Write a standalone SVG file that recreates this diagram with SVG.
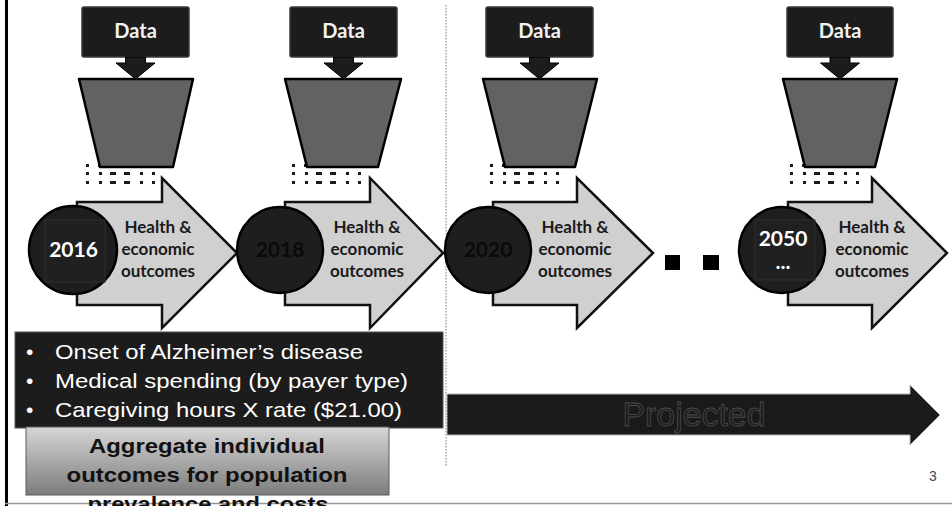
<svg xmlns="http://www.w3.org/2000/svg" width="952" height="506" viewBox="0 0 952 506">
<style>
.data{fill:#1c1c1c;stroke:#3a3a3a;stroke-width:1.5}
.dtxt{font-family:Lato,"Noto Sans",sans-serif;font-weight:bold;font-size:20px;fill:#f2f2f2;text-anchor:middle}
.darr{fill:#1c1c1c;stroke:#000;stroke-width:1}
.trap{fill:#626262;stroke:#000;stroke-width:2.5;stroke-linejoin:round}
.big{fill:#d0d0d0;stroke:#111;stroke-width:2.5}
.circ{fill:#1e1e1e;stroke:#000;stroke-width:2.5}
.sq{fill:#202020;stroke:#2e2e2e;stroke-width:1}
.yr{font-family:Lato,"Noto Sans",sans-serif;font-weight:bold;font-size:21px;text-anchor:middle}
.ho{font-family:Lato,"Noto Sans",sans-serif;font-weight:bold;font-size:17px;fill:#1a1a1a;text-anchor:middle}
.dot{fill:#1a1a1a}
.bul{font-family:"Liberation Sans",Arial,sans-serif;font-size:21px;fill:#fff}
.agg{font-family:"Liberation Sans",Arial,sans-serif;font-weight:bold;font-size:21px;fill:#111;text-anchor:middle}
</style>
<defs>
<linearGradient id="gg" x1="0" y1="0" x2="0" y2="1">
<stop offset="0" stop-color="#d6d6d6"/>
<stop offset="1" stop-color="#7c7c7c"/>
</linearGradient>
<g id="dots">
<rect x="7" y="164" width="3" height="3"/><rect x="19" y="164" width="3" height="3"/>
<rect x="7" y="172" width="3" height="3"/><rect x="20" y="172" width="3" height="3"/><rect x="31" y="172" width="3" height="3"/><rect x="34" y="172" width="3" height="3"/><rect x="45" y="172" width="3" height="3"/><rect x="48" y="172" width="3" height="3"/><rect x="61" y="172" width="3" height="3"/><rect x="73" y="172" width="3" height="3"/>
<rect x="7" y="181" width="3" height="3"/><rect x="20" y="181" width="3" height="3"/><rect x="31" y="181" width="3" height="3"/><rect x="34" y="181" width="3" height="3"/><rect x="45" y="181" width="3" height="3"/><rect x="48" y="181" width="3" height="3"/><rect x="61" y="181" width="3" height="3"/><rect x="73" y="181" width="3" height="3"/>
</g>
</defs>
<rect width="952" height="506" fill="#fff"/>
<rect x="5" y="0" width="3" height="506" fill="#000"/>
<line x1="5" y1="503.5" x2="952" y2="503.5" stroke="#999" stroke-width="1.5"/>
<line x1="446" y1="5" x2="446" y2="467" stroke="#777" stroke-width="1" stroke-dasharray="1.5 1.5"/>

<g id="unit2016">
<use href="#dots" x="79" class="dot"/>
<rect class="data" x="82" y="7" width="107" height="50" rx="2"/>
<text class="dtxt" x="135.5" y="38">Data</text>
<path class="darr" d="M125.5,57 H145.5 V63 H155 L135.5,79 L116,63 H125.5 Z"/>
<path class="trap" d="M79,79 H193 L173,167 H100 Z"/>
<path class="big" d="M77,202 H162 V178 L237,253 L162,328 V305 H77 Z"/>
<circle class="circ" cx="73" cy="250" r="44"/>
<rect class="sq" x="45" y="220" width="60" height="62"/>
<text class="yr" x="73.5" y="257" fill="#fff">2016</text>
<text class="ho" x="158" y="233">Health &amp;</text>
<text class="ho" x="158" y="255">economic</text>
<text class="ho" x="158" y="277">outcomes</text>
</g>

<g id="unit2018">
<use href="#dots" x="285" class="dot"/>
<rect class="data" x="290" y="7" width="107" height="50" rx="2"/>
<text class="dtxt" x="343.5" y="38">Data</text>
<path class="darr" d="M333.5,57 H353.5 V63 H363 L343.5,79 L324,63 H333.5 Z"/>
<path class="trap" d="M285,79 H401 L378,167 H307 Z"/>
<path class="big" d="M285,202 H370 V178 L443,253 L370,328 V305 H285 Z"/>
<circle class="circ" cx="280" cy="250" r="43"/>
<text class="yr" x="280" y="257" fill="#0a0a0a" font-weight="normal">2018</text>
<text class="ho" x="367" y="233">Health &amp;</text>
<text class="ho" x="367" y="255">economic</text>
<text class="ho" x="367" y="277">outcomes</text>
</g>

<g id="unit2020">
<use href="#dots" x="483" class="dot"/>
<rect class="data" x="486" y="7" width="107" height="50" rx="2"/>
<text class="dtxt" x="539.5" y="38">Data</text>
<path class="darr" d="M529.5,57 H549.5 V63 H559 L539.5,79 L520,63 H529.5 Z"/>
<path class="trap" d="M483,79 H597 L575,167 H505 Z"/>
<path class="big" d="M493,202 H577 V178 L653,253 L577,328 V305 H493 Z"/>
<circle class="circ" cx="488" cy="250" r="43"/>
<text class="yr" x="488" y="257" fill="#0a0a0a" font-weight="normal">2020</text>
<text class="ho" x="575" y="233">Health &amp;</text>
<text class="ho" x="575" y="255">economic</text>
<text class="ho" x="575" y="277">outcomes</text>
</g>

<g id="ellipsis">
<rect x="665" y="255" width="15" height="15" fill="#000"/>
<rect x="703" y="255" width="16" height="15" fill="#000"/>
</g>

<g id="unit2050">
<use href="#dots" x="783" class="dot"/>
<rect class="data" x="787" y="7" width="106" height="50" rx="2"/>
<text class="dtxt" x="840" y="38">Data</text>
<path class="darr" d="M830,57 H850 V63 H859.5 L840,79 L820.5,63 H830 Z"/>
<path class="trap" d="M783,79 H897 L875,167 H805 Z"/>
<path class="big" d="M788,202 H872 V178 L947,253 L872,328 V305 H788 Z"/>
<circle class="circ" cx="782" cy="250" r="43"/>
<rect class="sq" x="755" y="220" width="60" height="60"/>
<text class="yr" x="783" y="246" fill="#fff">2050</text>
<text class="yr" x="783" y="269" fill="#fff" font-size="17">...</text>
<text class="ho" x="872" y="233">Health &amp;</text>
<text class="ho" x="872" y="255">economic</text>
<text class="ho" x="872" y="277">outcomes</text>
</g>

<g id="outputs">
<rect x="15" y="332" width="428" height="96" fill="#1c1c1c" stroke="#555" stroke-width="1"/>
<text class="bul" x="26" y="359">•</text>
<text class="bul" x="26" y="388">•</text>
<text class="bul" x="26" y="417">•</text>
<text class="bul" x="55" y="359" textLength="308" lengthAdjust="spacingAndGlyphs">Onset of Alzheimer’s disease</text>
<text class="bul" x="55" y="388" textLength="353" lengthAdjust="spacingAndGlyphs">Medical spending (by payer type)</text>
<text class="bul" x="55" y="417" textLength="347" lengthAdjust="spacingAndGlyphs">Caregiving hours X rate ($21.00)</text>
</g>

<g id="aggregate">
<rect x="26" y="427" width="363" height="68" fill="url(#gg)" stroke="#5a5a5a" stroke-width="1"/>
<text class="agg" x="207" y="453" textLength="236" lengthAdjust="spacingAndGlyphs">Aggregate individual</text>
<text class="agg" x="207" y="482" textLength="281" lengthAdjust="spacingAndGlyphs">outcomes for population</text>
<text class="agg" x="208" y="511" textLength="241" lengthAdjust="spacingAndGlyphs">prevalence and costs</text>
</g>

<g id="projected">
<path d="M447,394 H910 V385 L940,415 L910,445 V435 H447 Z" fill="#1a1a1a" stroke="#b5b5b5" stroke-width="1"/>
<text x="694" y="426" font-family="'Liberation Sans',Arial,sans-serif" font-size="33" text-anchor="middle" fill="#1c1c1c" stroke="#4a4a4a" stroke-width="0.8" textLength="143" lengthAdjust="spacingAndGlyphs">Projected</text>
</g>

<text x="933" y="481" font-family="'Liberation Sans',Arial,sans-serif" font-size="14" fill="#444" text-anchor="middle">3</text>
</svg>
